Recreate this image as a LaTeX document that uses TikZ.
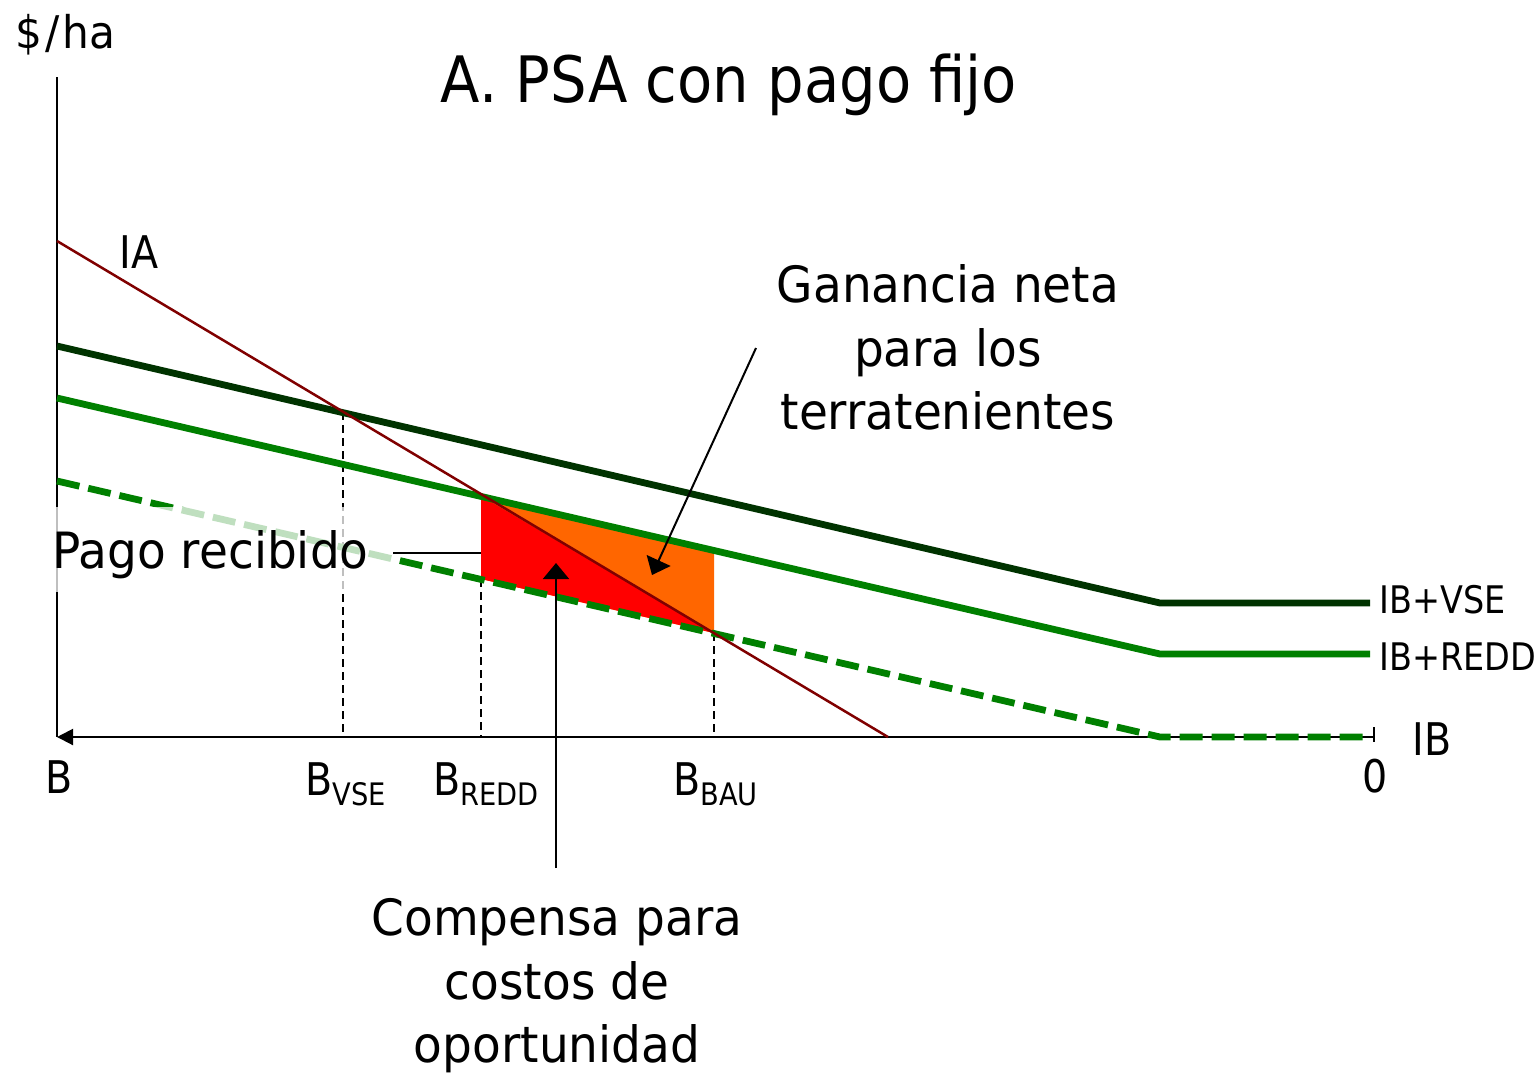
\documentclass[tikz,border=0pt]{standalone}
\usepackage{fontspec}
\setmainfont{DejaVu Sans}[FakeStretch=0.88]
\newfontfamily\widefont{DejaVu Sans}[FakeStretch=0.94]
\newfontfamily\titlefont{DejaVu Sans}[FakeStretch=0.90]
\usetikzlibrary{arrows.meta}
\definecolor{vsegreen}{HTML}{003300}
\definecolor{reddgreen}{HTML}{008000}
\definecolor{iared}{HTML}{800000}
\definecolor{oppred}{HTML}{FF0000}
\definecolor{gainorange}{HTML}{FF6600}
\newcommand\subtxt[1]{\raisebox{-5pt}{\fontsize{15.5}{18}\selectfont #1}}
\tikzset{
  txt/.style={inner sep=0pt, font=\fontsize{22.5}{27}\selectfont},
  bigtxt/.style={inner sep=0pt, font=\widefont\fontsize{25}{32}\selectfont},
  smalltxt/.style={inner sep=0pt, font=\fontsize{19}{23}\selectfont},
  titletxt/.style={inner sep=0pt, font=\titlefont\fontsize{32}{38}\selectfont},
  axisline/.style={line width=1pt, black},
  guide/.style={line width=0.75pt, black, dash pattern=on 4pt off 2.5pt},
  thickcurve/.style={line width=3.4pt},
  pointer/.style={line width=1pt, black, -{Triangle[width=13pt,length=8pt]}}
}
\begin{document}
\begin{tikzpicture}[x=0.5pt,y=-0.5pt]
\useasboundingbox (0,0) rectangle (1537,1073);

% key points
\coordinate (ytop) at (57,77);
\coordinate (orig) at (57,737);
\coordinate (xend) at (1374,737);
\coordinate (tickT) at (1374,727);
\coordinate (tickB) at (1374,742);

\coordinate (iaS) at (57,241);
\coordinate (iaE) at (888,737);

\coordinate (vseS) at (57,346);
\coordinate (vseK) at (1160,603);
\coordinate (vseE) at (1370,603);

\coordinate (reddS) at (57,398);
\coordinate (reddK) at (1160,654);
\coordinate (reddE) at (1370,654);

\coordinate (ibS) at (57,481);
\coordinate (ibK) at (1160,737);
\coordinate (ibE) at (1370,737);

\coordinate (pVSE) at (343,412);
\coordinate (aVSE) at (343,737);
\coordinate (pREDD) at (481,496);
\coordinate (qREDD) at (481,579);
\coordinate (aREDD) at (481,737);
\coordinate (pBAUtop) at (714,551);
\coordinate (pBAU) at (714,633);
\coordinate (aBAU) at (714,737);

% areas
\fill[gainorange] (pREDD) -- (pBAUtop) -- (pBAU) -- (qREDD) -- cycle;
\fill[oppred] (pREDD) -- (pBAU) -- (qREDD) -- cycle;

% guides
\draw[guide] (pVSE) -- (aVSE);
\draw[guide] (qREDD) -- (aREDD);
\draw[guide] (pBAU) -- (aBAU);

% axes
\draw[axisline] (ytop) -- (orig);
\draw[axisline, -{Triangle[width=8pt,length=8pt]}] (xend) -- (orig);
\draw[axisline] (tickT) -- (tickB);

% curves
\draw[thickcurve, reddgreen, dash pattern=on 11.5pt off 4.5pt] (ibS) -- (ibK) -- (ibE);
\draw[thickcurve, reddgreen] (reddS) -- (reddK) -- (reddE);
\draw[thickcurve, vsegreen] (vseS) -- (vseK) -- (vseE);
\draw[line width=1.25pt, iared] (iaS) -- (iaE);

% Pago recibido
\fill[white, fill opacity=0.75] (50,507) rectangle (393,592);
\node[bigtxt, anchor=base west] (pago) at (52,568) {Pago recibido};
\coordinate (pagoL) at (393,553);
\coordinate (pagoR) at (481,553);
\draw[line width=1pt] (pagoL) -- (pagoR);

% arrows
\coordinate (ganS) at (756,348);
\coordinate (ganT) at (652,575);
\draw[pointer] (ganS) -- (ganT);
\coordinate (compS) at (556,868);
\coordinate (compT) at (556,563);
\draw[pointer] (compS) -- (compT);

% texts
\node[txt, anchor=base west] (yl) at (15,48) {\widefont\$\kern1.5pt/\kern1.5pt ha};
\node[titletxt, anchor=base] (title) at (729,102) {A. PSA con pago fijo};
\node[txt, anchor=base west] (ia) at (119,268) {IA};

\node[bigtxt, anchor=base] (gan1) at (948,302) {Ganancia neta};
\node[bigtxt, anchor=base] (gan2) at (948,366) {para los};
\node[bigtxt, anchor=base] (gan3) at (948,429) {terratenientes};

\node[bigtxt, anchor=base] (comp1) at (557,935) {Compensa para};
\node[bigtxt, anchor=base] (comp2) at (557,999) {costos de};
\node[bigtxt, anchor=base] (comp3) at (557,1062) {oportunidad};

\node[smalltxt, anchor=base west] (lvse) at (1379,613) {IB+VSE};
\node[smalltxt, anchor=base west] (lredd) at (1379,670) {IB+REDD};
\node[txt, anchor=base west] (lib) at (1412,755) {IB};

\node[txt, anchor=base] (bB) at (59,793) {B};
\node[txt, anchor=base west] (bVSE) at (305,795) {B\subtxt{VSE}};
\node[txt, anchor=base west] (bREDD) at (433,795) {B\subtxt{REDD}};
\node[txt, anchor=base west] (bBAU) at (673,795) {B\subtxt{BAU}};
\node[txt, anchor=base] (zero) at (1375,792) {0};
\end{tikzpicture}
\end{document}
